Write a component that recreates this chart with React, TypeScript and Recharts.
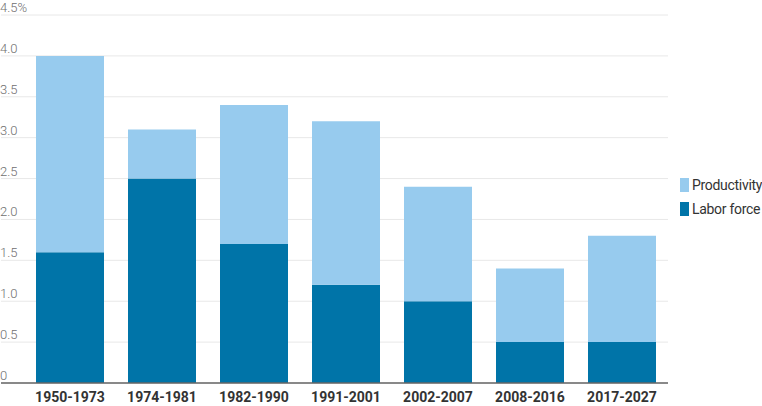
import React from 'react';
import { BarChart, Bar, XAxis, YAxis, CartesianGrid } from 'recharts';

const periods = ['1950-1973', '1974-1981', '1982-1990', '1991-2001', '2002-2007', '2008-2016', '2017-2027'];
const laborForce = [1.6, 2.5, 1.7, 1.2, 1.0, 0.5, 0.5];
const productivity = [2.4, 0.6, 1.7, 2.0, 1.4, 0.9, 1.3];
const yTicks = [0, 0.5, 1.0, 1.5, 2.0, 2.5, 3.0, 3.5, 4.0, 4.5];

const data = periods.map((p, i) => ({ period: p, labor: laborForce[i], productivity: productivity[i] }));

const LIGHT = '#97CBEE';
const DARK = '#0074A8';
const FONT = 'Roboto, "Noto Sans", sans-serif';

const YTick = (props: any) => {
  const { y, payload } = props;
  const v = payload.value as number;
  const label = v === 0 ? '0' : v === 4.5 ? '4.5%' : v.toFixed(1);
  return (
    <text x={0} y={y - 3} fill="#6f6f6f" fontSize={13} fontWeight={300} fontFamily={FONT} textAnchor="start">
      {label}
    </text>
  );
};

const XTick = (props: any) => {
  const { x, y, payload } = props;
  return (
    <text x={x} y={y + 11} fill="#333" fontSize={14} fontWeight="bold" fontFamily={FONT} textAnchor="middle">
      {payload.value}
    </text>
  );
};

const legendItems = [
  { name: 'Productivity', color: LIGHT },
  { name: 'Labor force', color: DARK },
];

export default function App() {
  return (
    <div style={{ position: 'absolute', left: 0, top: 0, width: 762, height: 406, background: '#fff', overflow: 'hidden' }}>
      <BarChart width={762} height={406} data={data} margin={{ top: 15, right: 94, bottom: 0, left: 0 }}>
        <CartesianGrid vertical={false} stroke="#e8e8e8" />
        <YAxis
          width={1}
          domain={[0, 4.5]}
          ticks={yTicks}
          axisLine={false}
          tickLine={false}
          tick={<YTick />}
          interval={0}
        />
        <XAxis
          dataKey="period"
          height={23}
          padding={{ left: 23, right: 0 }}
          axisLine={{ stroke: '#666', strokeWidth: 1.5 }}
          tickLine={false}
          tick={<XTick />}
          interval={0}
        />
        <Bar dataKey="labor" name="Labor force" stackId="a" fill={DARK} barSize={68} isAnimationActive={false} />
        <Bar dataKey="productivity" name="Productivity" stackId="a" fill={LIGHT} barSize={68} isAnimationActive={false} />
      </BarChart>
      <div style={{ position: 'absolute', left: 680, top: 173, fontFamily: FONT, fontSize: 14, letterSpacing: -0.3, color: '#333' }}>
        {legendItems.map((it) => (
          <div key={it.name} style={{ display: 'flex', alignItems: 'center', height: 24, whiteSpace: 'nowrap' }}>
            <span style={{ display: 'inline-block', width: 9, height: 14, background: it.color, marginRight: 3 }} />
            <span>{it.name}</span>
          </div>
        ))}
      </div>
    </div>
  );
}
